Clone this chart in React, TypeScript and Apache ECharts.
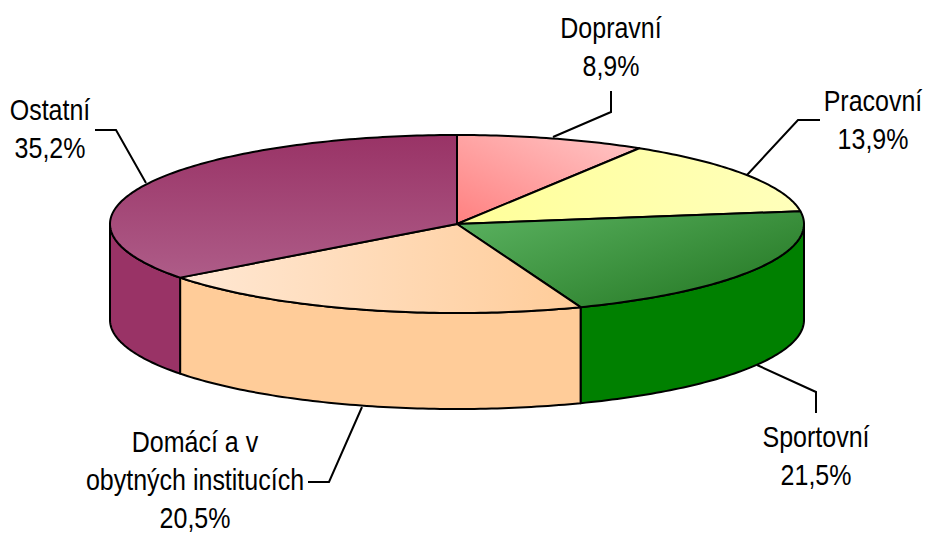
import React, { useEffect, useRef } from "react";
import * as echarts from "echarts";

const categories = ["Dopravní", "Pracovní", "Sportovní", "Domácí a v\nobytných institucích", "Ostatní"];
const values = [8.9, 13.9, 21.5, 20.5, 35.2];
const sideColors = ["#FF8080", "#FFFF99", "#008000", "#FFCC99", "#993366"];

const CX = 457, CY = 224, RX = 347, RY = 89, DEPTH = 96;
const ANGLE_SKEW = 0.006;
const FONT = "'Liberation Sans', Arial, sans-serif";
const FONT_SIZE = 29;
const TEXT_SCALE_X = 0.862;
const LINE_H = 38;

const topFills = [
  () => new echarts.graphic.LinearGradient(0, 1, 1, 0, [{ offset: 0, color: "#FF8080" }, { offset: 1, color: "#FFC8C8" }]),
  () => new echarts.graphic.LinearGradient(0, 0, 1, 0, [{ offset: 0, color: "#FFFF99" }, { offset: 1, color: "#FFFFBB" }]),
  () => new echarts.graphic.LinearGradient(0.1, 0.1, 0.9, 0.75, [{ offset: 0, color: "#56AD5B" }, { offset: 1, color: "#2A7E2A" }]),
  () => new echarts.graphic.LinearGradient(0, 0, 1, 0, [{ offset: 0, color: "#FFE8D4" }, { offset: 1, color: "#FFCC99" }]),
  () => new echarts.graphic.LinearGradient(0, 0, 0, 1, [{ offset: 0, color: "#993366" }, { offset: 1, color: "#AE5C88" }]),
];

const labelLayout = [
  { x: 611, y: 28, line: [[611, 91], [611, 112], [553, 137]] },
  { x: 873, y: 101, line: [[820, 120], [798, 120], [747, 175]] },
  { x: 816, y: 437, line: [[757, 365], [816, 392], [816, 413]] },
  { x: 195, y: 442, line: [[308, 482], [329, 482], [362, 407]] },
  { x: 50, y: 110, line: [[95, 130], [116, 130], [146, 183]] },
];

const total = values.reduce((a, b) => a + b, 0);
const angleAt = (i: number) => {
  const a = (values.slice(0, i).reduce((s, b) => s + b, 0) / total) * Math.PI * 2;
  return i > 0 && i < values.length ? a - ANGLE_SKEW : a;
};
const pt = (a: number, dy = 0) => [CX + RX * Math.sin(a), CY - RY * Math.cos(a) + dy];
const arc = (a0: number, a1: number, dy = 0) => {
  const n = Math.max(2, Math.ceil(Math.abs(a1 - a0) * 60));
  const out: number[][] = [];
  for (let k = 0; k <= n; k++) out.push(pt(a0 + ((a1 - a0) * k) / n, dy));
  return out;
};

const strokeStyle = { stroke: "#000", lineWidth: 2, lineJoin: "round" };

function renderSide(params: any) {
  const i = params.dataIndex;
  const a0 = Math.max(angleAt(i), Math.PI / 2);
  const a1 = Math.min(angleAt(i + 1), (Math.PI * 3) / 2);
  if (a1 <= a0) return { type: "group", children: [] };
  const points = [...arc(a0, a1), ...arc(a1, a0, DEPTH)];
  return {
    type: "polygon",
    shape: { points },
    style: { fill: sideColors[i], ...strokeStyle },
  };
}

function renderTop(params: any) {
  const i = params.dataIndex;
  const points = [[CX, CY], ...arc(angleAt(i), angleAt(i + 1))];
  return {
    type: "polygon",
    shape: { points },
    style: { fill: topFills[i](), ...strokeStyle },
  };
}

export default function App() {
  const ref = useRef<HTMLDivElement>(null);
  useEffect(() => {
    document.body.style.margin = "0";
    const chart = echarts.init(ref.current!, undefined, { renderer: "svg" });
    const graphics: any[] = [];
    categories.forEach((name, i) => {
      const layout = labelLayout[i];
      graphics.push({
        type: "polyline",
        shape: { points: layout.line },
        style: { stroke: "#000", lineWidth: 2, fill: "none" },
        z: 1,
      });
      const lines = [...name.split("\n"), values[i].toFixed(1).replace(".", ",") + "%"];
      lines.forEach((text, k) => {
        graphics.push({
          type: "text",
          x: layout.x,
          y: layout.y + k * LINE_H,
          scaleX: TEXT_SCALE_X,
          style: {
            text,
            fill: "#000",
            font: `${FONT_SIZE}px ${FONT}`,
            align: "center",
            verticalAlign: "middle",
          },
          z: 5,
        });
      });
    });
    chart.setOption({
      animation: false,
      backgroundColor: "#fff",
      graphic: graphics,
      series: [
        {
          type: "custom",
          coordinateSystem: "none",
          silent: true,
          z: 2,
          data: values.map((v, i) => ({ name: categories[i], value: v })),
          renderItem: renderSide,
        },
        {
          type: "custom",
          coordinateSystem: "none",
          silent: true,
          z: 3,
          data: values.map((v, i) => ({ name: categories[i], value: v })),
          renderItem: renderTop,
        },
      ],
    });
    return () => chart.dispose();
  }, []);
  return <div ref={ref} style={{ width: 927, height: 533 }} />;
}
